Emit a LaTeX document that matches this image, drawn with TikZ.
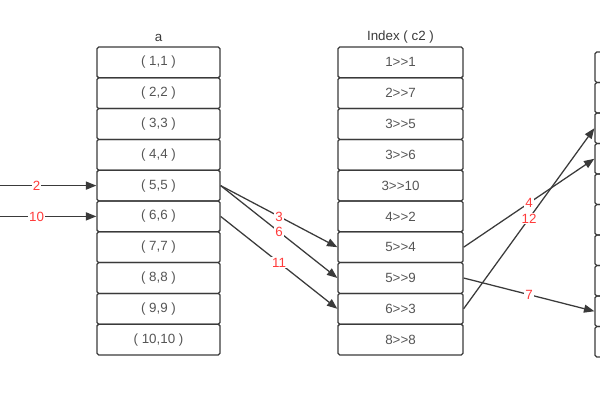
\documentclass[tikz,border=0pt]{standalone}
\usepackage{fontspec}
\setmainfont{Liberation Sans}
\usetikzlibrary{arrows.meta,positioning}
\definecolor{celltext}{HTML}{555555}
\definecolor{linegray}{HTML}{3A3A3A}
\definecolor{numred}{HTML}{FF3B3B}
\newcommand{\ptr}{>\kern0pt>}

\begin{document}
\begin{tikzpicture}[x=0.25mm, y=-0.25mm]
  \tikzstyle{cell}=[rectangle, draw=linegray, line width=0.9pt, rounded corners=1.2pt, minimum width=30.75mm, minimum height=7.7mm, inner sep=0pt, text=celltext, font=\fontsize{9.5}{11}\selectfont]
  \tikzstyle{title}=[text=linegray, inner sep=0pt, font=\fontsize{9.5}{11}\selectfont]
  \tikzstyle{link}=[-{Triangle[length=2.6mm, width=2mm]}, draw=linegray, line width=0.9pt]
  \tikzstyle{num}=[fill=white, text=numred, inner sep=0.8pt, font=\fontsize{9.5}{11}\selectfont]

  \path[use as bounding box, clip] (0,0) rectangle (600,400);

  % Tabla a
  \node[title] (atitle) at (158.5,38) {a};
  \foreach \i in {1,...,10}
    \node[cell] (a\i) at (158.5, {47+30.8*(\i-0.5)}) {( \i,\i{} )};

  % Indice c2
  \node[title] (ixtitle) at (400.5,37) {Index ( c2 )};
  \foreach \i/\t in {1/1\ptr 1, 2/2\ptr 7, 3/3\ptr 5, 4/3\ptr 6, 5/3\ptr 10, 6/4\ptr 2, 7/5\ptr 4, 8/5\ptr 9, 9/6\ptr 3, 10/8\ptr 8}
    \node[cell, minimum width=31.25mm] (ix\i) at (400.5, {47+30.8*(\i-0.5)}) {\t};

  % Tabla derecha (cortada)
  \foreach \i in {1,...,10}
    \node[cell, minimum width=31.25mm, minimum height=7.625mm] (r\i) at (657.5, {52+30.5*(\i-0.5)}) {};

  % Entradas
  \coordinate (src2) at (0,0 |- a5.west);
  \coordinate (src10) at (0,0 |- a6.west);
  \draw[link] (src2) -- node[num, pos=0.38] {2} (a5.west);
  \draw[link] (src10) -- node[num, pos=0.38] {10} (a6.west);

  % a -> indice
  \draw[link] (a5.east) -- node[num] {3} (ix7.west);
  \draw[link] (a5.east) -- node[num] {6} (ix8.west);
  \draw[link] (a6.east) -- node[num] {11} (ix9.west);

  % indice -> tabla derecha
  \draw[link] (ix7.east) -- node[num] {4} (r4.west);
  \draw[link] (ix9.east) -- node[num] {12} (r3.west);
  \draw[link] (ix8.east) -- node[num] {7} (r9.west);
\end{tikzpicture}
\end{document}
